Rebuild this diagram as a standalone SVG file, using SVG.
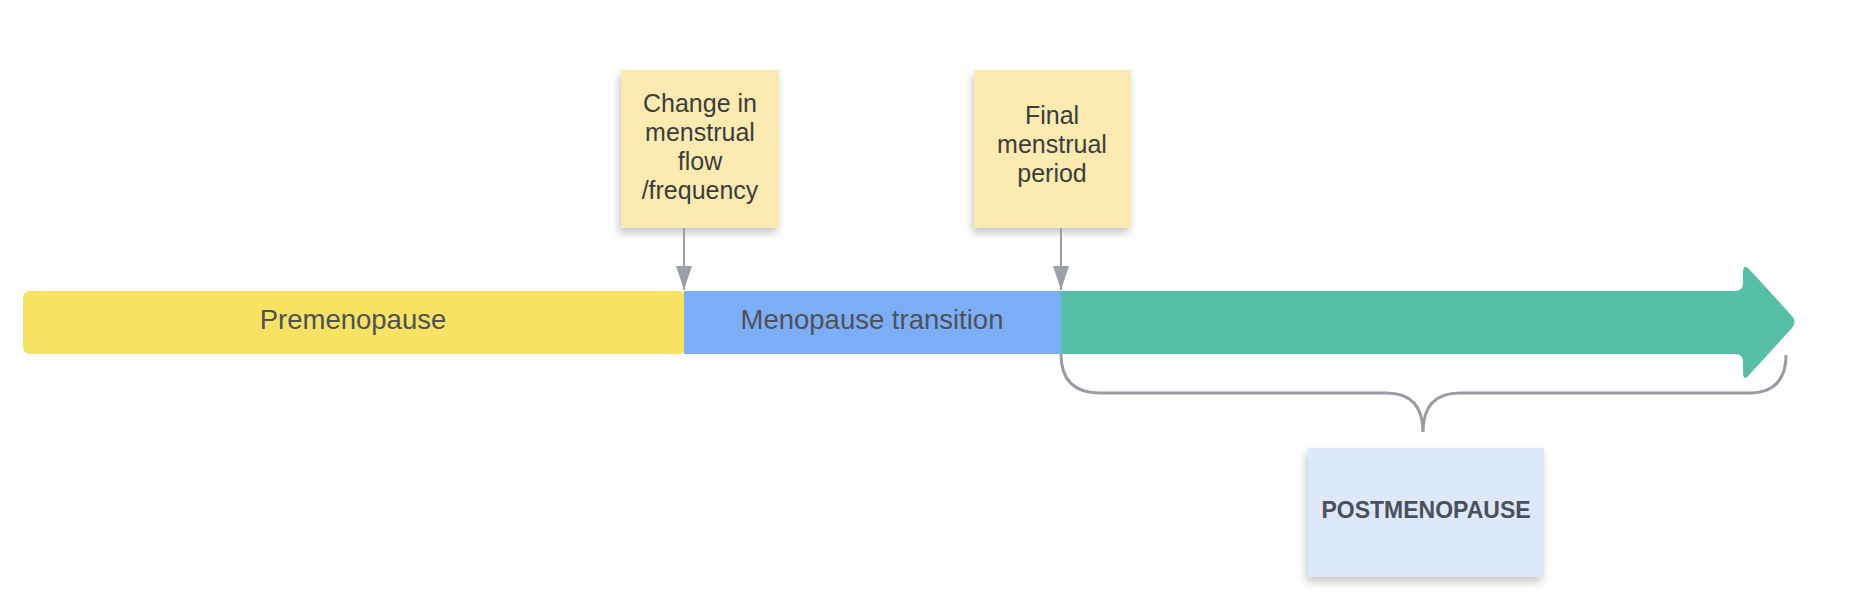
<svg xmlns="http://www.w3.org/2000/svg" width="1858" height="609" viewBox="0 0 1858 609">
<defs>
<filter id="shadow" x="-20%" y="-20%" width="140%" height="150%">
<feDropShadow dx="-2" dy="5" stdDeviation="4" flood-color="#000" flood-opacity="0.22"/>
</filter>
<marker id="arrow" viewBox="0 0 24 16" refX="24" refY="8" markerWidth="24" markerHeight="16" markerUnits="userSpaceOnUse" orient="auto">
<path d="M0,0 L24,8 L0,16 Z" fill="#9a9fa8"/>
</marker>
</defs>
<style>
.sticky{fill:#fbebb1;filter:url(#shadow);}
.sticky2{fill:#dde8f9;filter:url(#shadow);}
.note{font-family:"Liberation Sans",Arial,sans-serif;font-size:25px;fill:#3d3d3d;text-anchor:middle;}
.bar{font-family:"Liberation Sans",Arial,sans-serif;font-size:27.5px;fill:#4f5157;text-anchor:middle;}
.conn{stroke:#9a9fa8;stroke-width:2;fill:none;}
.brace{stroke:#9a9ca4;stroke-width:3;fill:none;}
</style>
<rect width="1858" height="609" fill="#ffffff"/>
<g id="premenopause">
<rect x="23" y="291" width="663" height="63" rx="7" fill="#f7e264"/>
<text class="bar" x="353" y="329">Premenopause</text>
</g>
<g id="transition">
<rect x="684" y="291" width="378" height="63" fill="#7caef6"/>
<text class="bar" x="872" y="329">Menopause transition</text>
</g>
<g id="postarrow">
<path d="M1061,291 L1735,291 Q1743,291 1743,283 L1743,273 Q1743,262 1750,270 L1792,316 Q1797,322 1792,328 L1750,374 Q1743,383 1743,372 L1743,362 Q1743,354 1735,354 L1061,354 Z" fill="#57bea8"/>
</g>
<g id="note-change">
<rect class="sticky" x="621" y="70" width="158" height="158"/>
<text class="note" x="700" y="112">Change in</text>
<text class="note" x="700" y="141">menstrual</text>
<text class="note" x="700" y="170">flow</text>
<text class="note" x="700" y="199">/frequency</text>
</g>
<g id="note-final">
<rect class="sticky" x="974" y="70" width="157" height="158"/>
<text class="note" x="1052" y="124">Final</text>
<text class="note" x="1052" y="153">menstrual</text>
<text class="note" x="1052" y="182">period</text>
</g>
<g id="note-post">
<rect class="sticky2" x="1308" y="448" width="236" height="129"/>
<text x="1426" y="518" font-family="Liberation Sans, Arial, sans-serif" font-size="23" font-weight="bold" fill="#4a505b" text-anchor="middle">POSTMENOPAUSE</text>
</g>
<g id="connectors">
<line class="conn" x1="684" y1="228" x2="684" y2="290" marker-end="url(#arrow)"/>
<line class="conn" x1="1061" y1="228" x2="1061" y2="290" marker-end="url(#arrow)"/>
<path class="brace" d="M1061,354 Q1061,393 1100,393 L1386,393 Q1423,393 1423,432 Q1423,393 1460,393 L1748,393 Q1786,393 1786,355"/>
</g>
</svg>
